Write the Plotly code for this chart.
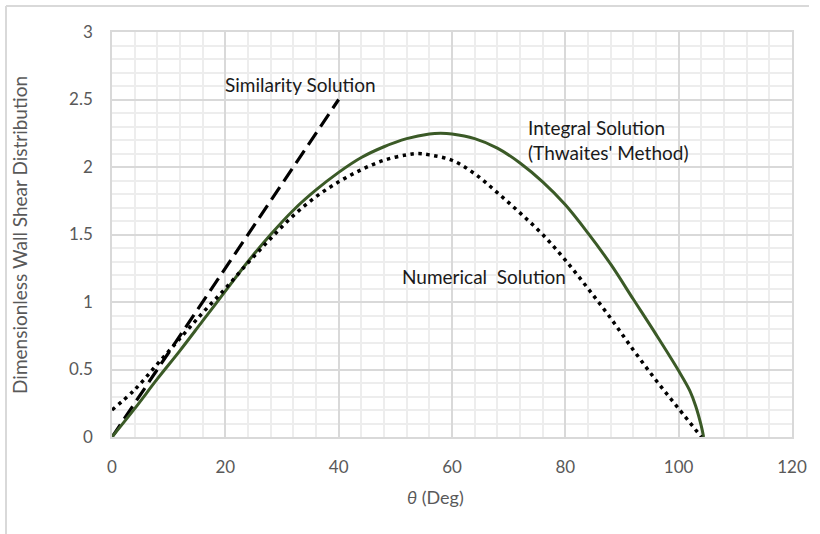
import plotly.graph_objects as go

# Similarity solution (straight line)
theta_sim = [0, 40]
tau_sim = [0.0, 2.5]

# Integral solution (Thwaites' method)
theta_int = [0, 4, 8, 12, 16, 20, 24, 28, 32, 36, 40, 44, 48, 52, 56, 58, 60, 64, 68, 72, 76, 80,
             84, 88, 92, 96, 100, 102, 103, 104, 104.4]
tau_int = [0.0, 0.21, 0.43, 0.64, 0.86, 1.08, 1.30, 1.50, 1.68, 1.83, 1.96, 2.07, 2.15, 2.21, 2.245, 2.25,
           2.245, 2.21, 2.14, 2.03, 1.89, 1.72, 1.51, 1.28, 1.02, 0.76, 0.49, 0.34, 0.23, 0.08, 0.0]

# Numerical solution
theta_num = [0, 4, 8, 12, 16, 20, 24, 28, 32, 36, 40, 44, 48, 52, 54, 56, 60, 64, 68, 72, 76, 80,
             84, 88, 92, 96, 100, 104]
tau_num = [0.20, 0.35, 0.54, 0.73, 0.92, 1.10, 1.29, 1.47, 1.64, 1.78, 1.89, 1.98, 2.05, 2.09, 2.10, 2.09,
           2.05, 1.95, 1.81, 1.66, 1.50, 1.31, 1.10, 0.88, 0.645, 0.42, 0.21, 0.0]

x_ticks = [0, 20, 40, 60, 80, 100, 120]
y_ticks = [0, 0.5, 1, 1.5, 2, 2.5, 3]

FONT = "Lato"
fig = go.Figure()
fig.add_trace(go.Scatter(x=theta_sim, y=tau_sim, mode="lines",
                         line=dict(color="black", width=3.2, dash="15px,7px"), showlegend=False))
fig.add_trace(go.Scatter(x=theta_int, y=tau_int, mode="lines", line_shape="spline",
                         line=dict(color="#3b5a27", width=3), showlegend=False))
fig.add_trace(go.Scatter(x=theta_num, y=tau_num, mode="lines", line_shape="spline",
                         line=dict(color="black", width=3.5, dash="3.5px,4.5px"), showlegend=False))

ann_font = dict(family=FONT, size=19, color="#1a1a1a")
fig.add_annotation(x=19.6, y=2.61, text="Similarity Solution", showarrow=False,
                   xanchor="left", yanchor="middle", font=ann_font)
fig.add_annotation(x=73.0, y=2.2, text="Integral Solution<br>(Thwaites' Method)", showarrow=False,
                   xanchor="left", yanchor="middle", align="left", font=ann_font)
fig.add_annotation(x=50.8, y=1.19, text="Numerical  Solution", showarrow=False,
                   xanchor="left", yanchor="middle", font=ann_font)

# axis titles
fig.add_annotation(xref="paper", yref="paper", x=0.475, y=-0.148, text="<i>θ</i> (Deg)",
                   showarrow=False, xanchor="center", yanchor="middle",
                   font=dict(family=FONT, size=18, color="#595959"))
fig.add_annotation(xref="paper", yref="paper", x=-0.1353, y=0.499,
                   text="Dimensionless Wall Shear Distribution", textangle=-90,
                   showarrow=False, xanchor="center", yanchor="middle",
                   font=dict(family=FONT, size=19, color="#595959"))

# outer chart frame (top and left edges)
fig.add_shape(type="line", xref="paper", yref="paper", x0=-0.1559, x1=1.025, y0=1.0642, y1=1.0642,
              line=dict(color="#d9d9d9", width=2))
fig.add_shape(type="line", xref="paper", yref="paper", x0=-0.1559, x1=-0.1559, y0=1.0642, y1=-0.245,
              line=dict(color="#d9d9d9", width=2))

tick_font = dict(family=FONT, size=17, color="#595959")
fig.update_xaxes(range=[0, 120], tickvals=x_ticks, ticktext=[str(v) for v in x_ticks],
                 showgrid=True, gridcolor="#d9d9d9", gridwidth=1.6,
                 minor=dict(dtick=4, tick0=0, showgrid=True, gridcolor="#ededed", gridwidth=1.6),
                 showline=True, linecolor="#d9d9d9", linewidth=1.6, mirror=True,
                 zeroline=False, ticks="", tickfont=tick_font, ticklabelstandoff=14)
fig.update_yaxes(range=[0, 3], tickvals=y_ticks, ticktext=["0", "0.5", "1", "1.5", "2", "2.5", "3"],
                 showgrid=True, gridcolor="#d9d9d9", gridwidth=1.6,
                 minor=dict(dtick=0.1, tick0=0, showgrid=True, gridcolor="#ededed", gridwidth=1.6),
                 showline=True, linecolor="#d9d9d9", linewidth=1.6, mirror=True,
                 zeroline=False, ticks="", tickfont=tick_font, ticklabelstandoff=14)
fig.update_layout(width=820, height=534, margin=dict(l=112, r=28, t=32, b=97),
                  paper_bgcolor="white", plot_bgcolor="white")
fig.write_html("out.html")
